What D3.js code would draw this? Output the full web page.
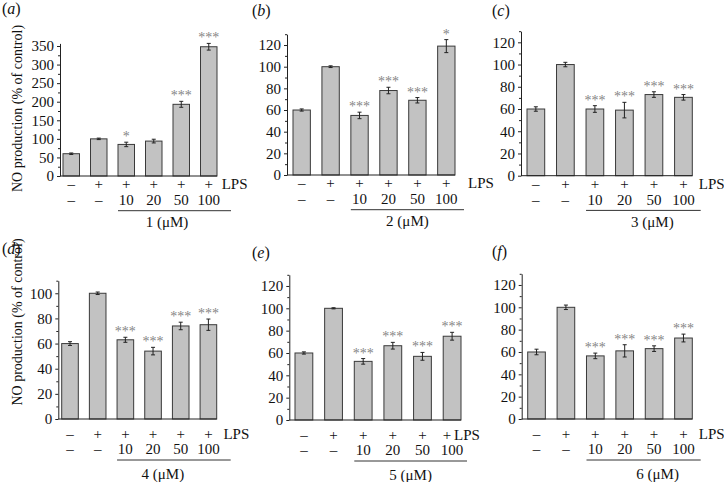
<!DOCTYPE html>
<html><head><meta charset="utf-8">
<script src="https://cdn.jsdelivr.net/npm/d3@7"></script>
<style>body{margin:0;background:#fff}svg{display:block}text{font-family:"Liberation Serif","Times New Roman",serif}</style>
</head><body><svg id="c" width="724" height="482"></svg>
<script>
// ---- data ----
const lpsRow = ["–","+","+","+","+","+"];
const doseRow = ["–","–","10","20","50","100"];
const compounds = ["1","2","3","4","5","6"];
const panelLetters = ["a","b","c","d","e","f"];
const values1 = [60,100,85,94,193,348];
const errors1 = [2,2,6,5,8,9];
const stars1 = ["","","*","","***","***"];
const values2 = [60,100,55,78,69,119];
const errors2 = [1,0.8,3,3,2.5,6];
const stars2 = ["","","***","***","***","*"];
const values3 = [60,100,60,59,73,70.5];
const errors3 = [2,2,3,7,2.5,2.5];
const stars3 = ["","","***","***","***","***"];
const values4 = [60,100,63,54,74,75];
const errors4 = [1.5,1,2,3,3,4.5];
const stars4 = ["","","***","***","***","***"];
const values5 = [60,100,52.5,66.5,57,75];
const errors5 = [1,0.5,2.5,3,3.5,3.5];
const stars5 = ["","","***","***","***","***"];
const values6 = [60,100,56.5,61,63,72.5];
const errors6 = [2.5,2,2.5,5.5,2.5,3.5];
const stars6 = ["","","***","***","***","***"];
const yMaxes = [357,130,130,110,130,130];
const majorTicks1 = [0,50,100,150,200,250,300,350];
const minorTicks1 = [25,75,125,175,225,275,325];
const majorTicks = [0,20,40,60,80,100,120];
const minorTicks = [10,30,50,70,90,110,130];
const yLabel = "NO production (% of control)";

const allValues = [values1,values2,values3,values4,values5,values6];
const allErrors = [errors1,errors2,errors3,errors4,errors5,errors6];
const allStars = [stars1,stars2,stars3,stars4,stars5,stars6];

// ---- layout ----
const layout = [
  {ax:60,  gap:3,   xEnd:217,   y0:176,   yTop:43.4,  top:true,  lps:4.7, lineEnd:14, labDx:-7.5, tx:2,   ty:13.5, ylab:108.5},
  {ax:287, gap:6,   xEnd:455,   y0:175,   yTop:34.2,  top:true,  lps:13,  lineEnd:9,  labDx:0,    tx:252, ty:15.5},
  {ax:521, gap:6,   xEnd:692.3, y0:175.7, yTop:31.2,  top:true,  lps:6.5, lineEnd:8.4,labDx:9,    tx:492, ty:15.5},
  {ax:58.3,gap:3.4, xEnd:216.7, y0:419,   yTop:280.7, top:false, lps:6.7, lineEnd:14, labDx:-11,  tx:2,   ty:254,  ylab:322},
  {ax:289.3,gap:5.7,xEnd:461,   y0:420,   yTop:274.8, top:false, lps:-7,  lineEnd:6,  labDx:0,    tx:252, ty:257.5, lastPlus:-5},
  {ax:521.7,gap:6,  xEnd:692.3, y0:419,   yTop:273.8, top:false, lps:6.5, lineEnd:8.4,labDx:14,   tx:492, ty:257}
];

const svg = d3.select("#c");
const ink = "#222";

layout.forEach((L,i)=>{
  const g = svg.append("g");
  const vals = allValues[i], errs = allErrors[i], st = allStars[i];
  const idx = d3.range(vals.length);
  const x = d3.scaleBand().domain(idx).range([L.ax+L.gap, L.xEnd]).paddingInner(0.4).paddingOuter(0);
  const y = d3.scaleLinear().domain([0,yMaxes[i]]).range([L.y0, L.yTop]);
  const maj = i===0 ? majorTicks1 : majorTicks.filter(t=>t<=yMaxes[i]);
  const min = i===0 ? minorTicks1 : minorTicks.filter(t=>t<=yMaxes[i]);

  // bars
  g.selectAll("rect.bar").data(idx).enter().append("rect")
    .attr("x", d=>x(d)).attr("width", x.bandwidth())
    .attr("y", d=>y(vals[d])).attr("height", d=>y(0)-y(vals[d]))
    .attr("fill","#c2c2c2").attr("stroke","#3a3a3a").attr("stroke-width",1);
  // error bars
  idx.forEach(d=>{
    const cx = x(d)+x.bandwidth()/2;
    g.append("line").attr("x1",cx).attr("x2",cx).attr("y1",y(vals[d]-errs[d])).attr("y2",y(vals[d]+errs[d])).attr("stroke",ink).attr("stroke-width",1);
    [vals[d]-errs[d], vals[d]+errs[d]].forEach(v=>{
      g.append("line").attr("x1",cx-2).attr("x2",cx+2).attr("y1",y(v)).attr("y2",y(v)).attr("stroke",ink).attr("stroke-width",1);
    });
    if (st[d]) g.append("text").attr("x",cx).attr("y",y(vals[d]+errs[d])-1).attr("text-anchor","middle")
      .attr("font-size",14).attr("fill","#858585").text(st[d]);
  });

  // y axis
  const ya = g.append("g").attr("transform",`translate(${L.ax},0)`)
    .call(d3.axisLeft(y).tickValues(maj).tickSize(3).tickSizeOuter(0).tickPadding(3).tickFormat(d3.format("d")));
  ya.select(".domain").attr("stroke",ink);
  ya.selectAll(".tick line").attr("stroke",ink);
  ya.selectAll(".tick text").attr("font-family","Liberation Serif").attr("font-size",15).attr("fill","#111");
  const ym = g.append("g").attr("transform",`translate(${L.ax},0)`)
    .call(d3.axisLeft(y).tickValues(min).tickSize(2).tickSizeOuter(0).tickFormat(""));
  ym.select(".domain").remove();
  ym.selectAll(".tick line").attr("stroke",ink);

  // x axis line
  g.append("line").attr("x1",L.ax).attr("x2",L.xEnd).attr("y1",L.y0).attr("y2",L.y0).attr("stroke",ink).attr("stroke-width",1);

  const r1 = L.top ? 13 : 20, r2 = L.top ? 29 : 35, ln = L.top ? 34.7 : 41, lb = L.top ? 51 : 60;
  idx.forEach(d=>{
    const cx = x(d)+x.bandwidth()/2;
    const sh = (d===idx.length-1 && L.lastPlus) ? L.lastPlus : 0;
    g.append("text").attr("x",cx+sh).attr("y",L.y0+r1).attr("text-anchor","middle").attr("font-size",15).attr("fill","#111").text(lpsRow[d]);
    g.append("text").attr("x",cx).attr("y",L.y0+r2).attr("text-anchor","middle").attr("font-size",15).attr("fill","#111").text(doseRow[d]);
  });
  g.append("text").attr("x",L.xEnd+L.lps).attr("y",L.y0+r1).attr("font-size",15).attr("fill","#111").text("LPS");
  const lx1 = x(2), lx2 = L.xEnd+L.lineEnd;
  g.append("line").attr("x1",lx1).attr("x2",lx2).attr("y1",L.y0+ln).attr("y2",L.y0+ln).attr("stroke","#333").attr("stroke-width",1);
  g.append("text").attr("x",(lx1+lx2)/2+L.labDx).attr("y",L.y0+lb).attr("text-anchor","middle").attr("font-size",15).attr("fill","#111")
    .text(compounds[i]+" (μM)");

  // title
  const t = g.append("text").attr("x",L.tx).attr("y",L.ty).attr("font-size",16).attr("fill","#111");
  t.append("tspan").text("(");
  t.append("tspan").attr("font-style","italic").text(panelLetters[i]);
  t.append("tspan").text(")");

  if (L.ylab) {
    g.append("text").attr("transform",`translate(21.5,${L.ylab}) rotate(-90)`).attr("text-anchor","middle")
      .attr("font-size",14).attr("fill","#111").text(yLabel);
  }
});
</script></body></html>
